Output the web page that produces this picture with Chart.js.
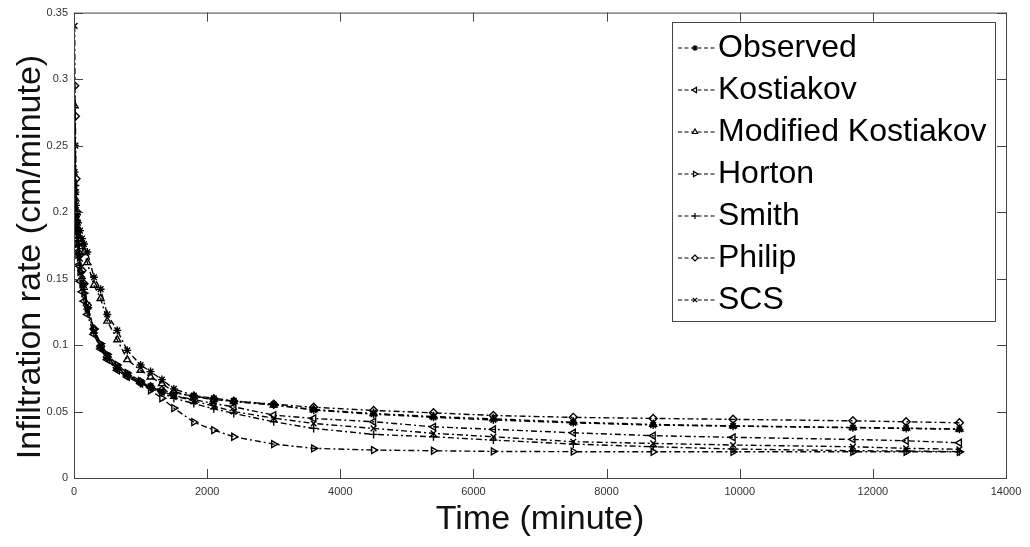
<!DOCTYPE html>
<html>
<head>
<meta charset="utf-8">
<script src="https://cdn.jsdelivr.net/npm/chart.js@4.4.1/dist/chart.umd.min.js"></script>
<style>
  body { margin: 0; background: #fff; }
  #wrap { width: 1030px; height: 547px; }
</style>
</head>
<body>
<div id="wrap"><canvas id="chart" width="1030" height="547"></canvas></div>
<script>
// time in minutes
const times = [10, 20, 30, 45, 60, 90, 120, 150, 200, 300, 400, 500, 650, 800, 1000, 1150,
  1320, 1500, 1800, 2100, 2400, 3000, 3600, 4500, 5400, 6300, 7500, 8700, 9900, 11700, 12500, 13300];

// infiltration rate, cm/minute
const observed = [0.23, 0.215, 0.205, 0.198, 0.192, 0.186, 0.180, 0.176, 0.170, 0.151, 0.142, 0.123, 0.111, 0.096, 0.085, 0.080,
  0.074, 0.067, 0.062, 0.060, 0.058, 0.0553, 0.051, 0.048, 0.0456, 0.0436, 0.0415, 0.0398, 0.039, 0.0378, 0.0373, 0.0366];
const kostiakov = [0.22, 0.195, 0.182, 0.170, 0.160, 0.148, 0.140, 0.133, 0.123, 0.108, 0.097, 0.089, 0.081, 0.076, 0.071, 0.068,
  0.065, 0.062, 0.059, 0.056, 0.0535, 0.0473, 0.0448, 0.0423, 0.0385, 0.0366, 0.034, 0.0318, 0.0306, 0.029, 0.028, 0.0265];
const modKostiakov = [0.28, 0.21, 0.20, 0.194, 0.188, 0.180, 0.174, 0.170, 0.162, 0.145, 0.135, 0.118, 0.104, 0.089, 0.081, 0.076,
  0.071, 0.065, 0.061, 0.059, 0.0575, 0.0548, 0.0515, 0.0485, 0.0462, 0.0445, 0.042, 0.0403, 0.0392, 0.038, 0.0375, 0.0368];
const horton = [0.20, 0.192, 0.185, 0.176, 0.168, 0.155, 0.146, 0.139, 0.128, 0.112, 0.101, 0.093, 0.085, 0.079, 0.073, 0.066,
  0.060, 0.0526, 0.042, 0.036, 0.031, 0.0255, 0.0223, 0.021, 0.0205, 0.020, 0.0198, 0.0197, 0.0197, 0.0197, 0.0197, 0.0197];
const smith = [0.25, 0.22, 0.20, 0.185, 0.175, 0.160, 0.150, 0.142, 0.127, 0.109, 0.098, 0.090, 0.082, 0.077, 0.071, 0.068,
  0.064, 0.060, 0.056, 0.052, 0.0486, 0.0423, 0.0373, 0.0328, 0.031, 0.0285, 0.0255, 0.0235, 0.0218, 0.0205, 0.0203, 0.0198];
const philip = [0.295, 0.272, 0.225, 0.200, 0.186, 0.168, 0.156, 0.146, 0.130, 0.112, 0.099, 0.091, 0.083, 0.077, 0.072, 0.0686,
  0.066, 0.064, 0.0615, 0.0595, 0.0578, 0.0555, 0.0532, 0.0508, 0.049, 0.047, 0.0456, 0.0448, 0.0441, 0.043, 0.0423, 0.0415];
const scs = [0.34, 0.25, 0.215, 0.195, 0.182, 0.165, 0.153, 0.145, 0.130, 0.111, 0.100, 0.092, 0.084, 0.078, 0.072, 0.069,
  0.065, 0.062, 0.058, 0.054, 0.050, 0.045, 0.041, 0.0373, 0.0336, 0.031, 0.0273, 0.026, 0.0248, 0.0235, 0.0223, 0.0216];

const seriesNames = ["Observed", "Kostiakov", "Modified Kostiakov", "Horton", "Smith", "Philip", "SCS"];
const seriesValues = [observed, kostiakov, modKostiakov, horton, smith, philip, scs];
const markers = [
  { style: "star", rot: 0, open: false },
  { style: "triangle", rot: -90, open: true },
  { style: "triangle", rot: 0, open: true },
  { style: "triangle", rot: 90, open: true },
  { style: "cross", rot: 0, open: true },
  { style: "rectRot", rot: 0, open: true },
  { style: "crossRot", rot: 0, open: true }
];

const datasets = seriesNames.map((name, k) => ({
  label: name,
  data: times.map((t, i) => ({ x: t, y: seriesValues[k][i] })),
  borderColor: "#000",
  borderWidth: 1.4,
  borderDash: [6, 3, 2, 3],
  pointStyle: markers[k].style,
  pointRotation: markers[k].rot,
  pointRadius: 4,
  pointBorderWidth: 1.4,
  pointBorderColor: "#000",
  pointBackgroundColor: markers[k].open ? "rgba(0,0,0,0)" : "#000",
  fill: false,
  tension: 0
}));

const FONT = "'Liberation Sans', Arial, sans-serif";

// matlab-ish box with inward ticks, plus the y title
const boxTicks = {
  id: "boxTicks",
  afterDatasetsDraw(chart) {
    const { ctx, chartArea: a, scales: { x, y } } = chart;
    ctx.save();
    ctx.strokeStyle = "#444";
    ctx.lineWidth = 1;
    ctx.strokeRect(a.left + 0.5, a.top + 0.5, a.right - a.left, a.bottom - a.top);
    ctx.beginPath();
    x.ticks.forEach(t => {
      const px = Math.round(x.getPixelForValue(t.value)) + 0.5;
      ctx.moveTo(px, a.bottom); ctx.lineTo(px, a.bottom - 9);
      ctx.moveTo(px, a.top); ctx.lineTo(px, a.top + 9);
    });
    y.ticks.forEach(t => {
      const py = Math.round(y.getPixelForValue(t.value)) + 0.5;
      ctx.moveTo(a.left, py); ctx.lineTo(a.left + 9, py);
      ctx.moveTo(a.right, py); ctx.lineTo(a.right - 9, py);
    });
    ctx.stroke();

    ctx.translate(31, 257);
    ctx.rotate(-Math.PI / 2);
    ctx.fillStyle = "#111";
    ctx.font = "34px " + FONT;
    ctx.textAlign = "center";
    ctx.textBaseline = "middle";
    ctx.fillText("Infiltration rate (cm/minute)", 0, 0);
    ctx.restore();
  }
};

// legend box in upper right
const boxLegend = {
  id: "boxLegend",
  afterDraw(chart) {
    const ctx = chart.ctx;
    const left = 672, top = 22, right = 995, bottom = 321;
    ctx.save();
    ctx.fillStyle = "#fff";
    ctx.fillRect(left, top, right - left, bottom - top);
    ctx.strokeStyle = "#444";
    ctx.lineWidth = 1;
    ctx.strokeRect(left + 0.5, top + 0.5, right - left, bottom - top);
    chart.data.datasets.forEach((ds, i) => {
      const yy = 48 + i * 42;
      ctx.strokeStyle = "#000";
      ctx.lineWidth = 1.2;
      ctx.setLineDash([4, 2.5]);
      ctx.beginPath();
      ctx.moveTo(678, yy); ctx.lineTo(716, yy);
      ctx.stroke();
      ctx.setLineDash([]);
      ctx.fillStyle = markers[i].open ? "#fff" : "#000";
      Chart.helpers.drawPoint(ctx, {
        pointStyle: ds.pointStyle, rotation: ds.pointRotation, radius: 3, borderWidth: 1.2
      }, 695, yy);
      ctx.fillStyle = "#000";
      ctx.font = "32px " + FONT;
      ctx.textBaseline = "middle";
      ctx.textAlign = "left";
      ctx.fillText(ds.label, 718, yy);
    });
    ctx.restore();
  }
};

new Chart(document.getElementById("chart"), {
  type: "line",
  data: { datasets },
  options: {
    responsive: false,
    animation: false,
    devicePixelRatio: 1,
    layout: { padding: { top: 11, right: 24, left: 0, bottom: 0 } },
    plugins: { legend: { display: false }, tooltip: { enabled: false } },
    scales: {
      x: {
        type: "linear",
        min: 0, max: 14000,
        afterFit(s) { s.height = 69; },
        ticks: { stepSize: 2000, padding: 7, color: "#333", font: { family: FONT, size: 11 },
          callback: v => String(v) },
        grid: { display: false, drawTicks: false },
        border: { display: false },
        title: { display: true, text: "Time (minute)", color: "#111",
          font: { family: FONT, size: 34, lineHeight: 1 }, padding: { top: 0, bottom: 10 } }
      },
      y: {
        min: 0, max: 0.35,
        afterFit(s) { s.width = 74; },
        ticks: { stepSize: 0.05, padding: 6, color: "#333", font: { family: FONT, size: 11 },
          callback: v => String(+v.toFixed(2)) },
        grid: { display: false, drawTicks: false },
        border: { display: false },
        title: { display: false }
      }
    }
  },
  plugins: [boxTicks, boxLegend]
});
</script>
</body>
</html>
